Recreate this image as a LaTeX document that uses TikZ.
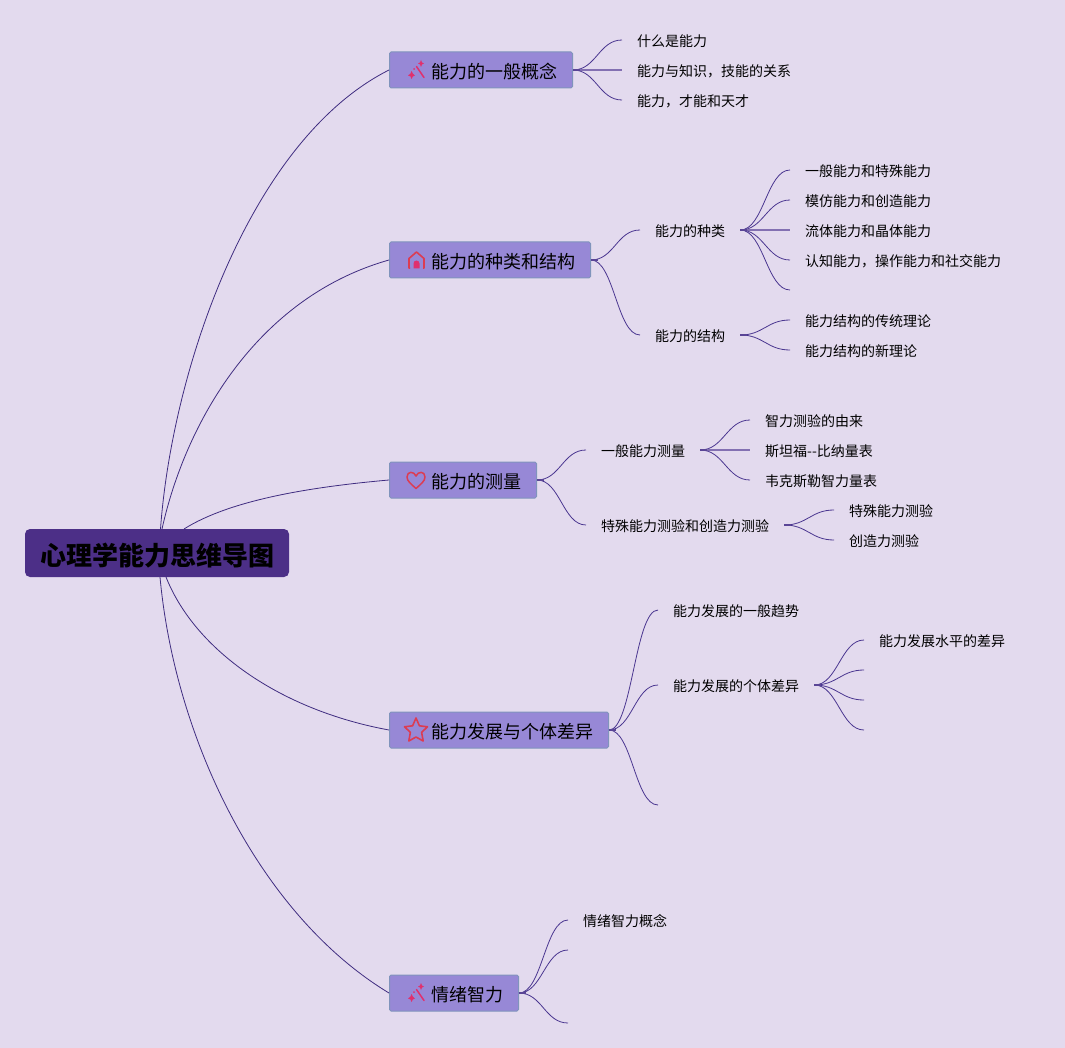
\documentclass[tikz,border=0pt]{standalone}
\usepackage{fontspec}
\setmainfont{Noto Sans CJK SC}
\definecolor{bgc}{HTML}{E3DAEE}
\definecolor{topicfill}{HTML}{9788D6}
\definecolor{topicedge}{HTML}{8094BC}
\definecolor{rootfill}{HTML}{4C2F87}
\definecolor{linec}{HTML}{4A3690}
\definecolor{rootlinec}{HTML}{3F2C80}
\definecolor{flatc}{HTML}{8370B2}
\definecolor{stubc}{HTML}{5A4596}
\definecolor{iconred}{HTML}{DC3C52}
\definecolor{iconpink}{HTML}{E0306E}
\usetikzlibrary{calc}
\tikzset{
  rootbox/.style={fill=rootfill,rounded corners=5pt,minimum width=264pt,minimum height=48pt,inner sep=0pt,text height=26pt,text depth=1.2pt,font=\bfseries\fontsize{26}{30}\selectfont,text=black},
  topic/.style={fill=topicfill,draw=topicedge,line width=1pt,rounded corners=1.5pt,minimum height=36pt,inner ysep=0pt,inner xsep=15pt,text height=18pt,text depth=1.3pt,anchor=west,font=\fontsize{18}{22}\selectfont,text=black},
  leaf/.style={inner xsep=15pt,inner ysep=0pt,text height=15pt,text depth=1.4pt,anchor=west,font=\fontsize{14}{17}\selectfont,text=black},
  rootline/.style={draw=rootlinec,line width=0.8pt},
  br/.style={draw=linec,line width=0.8pt,to path={.. controls ($(\tikztostart)+(23,0)$) and ($(\tikztotarget)+(-23,0)$) .. (\tikztotarget)}},
  flat/.style={draw=flatc,line width=1.3pt},
  stubline/.style={draw=stubc,line width=1.5pt},
  iconline/.style={draw=iconred,line width=1.4pt,line join=round,fill=none},
}
\newcommand{\ictext}[1]{\hspace*{27pt}#1}
\newcommand{\stubat}[1]{\draw[stubline] (#1.east) -- ++(7,0);}
\begin{document}
\begin{tikzpicture}[x=1pt,y=-1pt]
\useasboundingbox (0,0) rectangle (1065,1048);
\fill[bgc] (0,0) rectangle (1065,1048);

% root and topics
\node[rootbox] (root) at (157,553) {心理学能力思维导图};
\node[topic] (t1) at (389,70) {\ictext{能力的一般概念}};
\node[topic] (t2) at (389,260) {\ictext{能力的种类和结构}};
\node[topic] (t3) at (389,480) {\ictext{能力的测量}};
\node[topic] (t4) at (389,730) {\ictext{能力发展与个体差异}};
\node[topic] (t5) at (389,993) {\ictext{情绪智力}};

% root connectors
\coordinate (rtop) at (160.5,529);
\coordinate (rtopb) at (162,529);
\coordinate (rtopc) at (184,529);
\coordinate (rbot) at (160,577);
\coordinate (rbotb) at (166,577);
\draw[rootline] (rtop) .. controls (172,370) and (250,140) .. (t1.west);
\draw[rootline] (rtopb) .. controls (185,425) and (255,298) .. (t2.west);
\draw[rootline] (rtopc) .. controls (230,500) and (310,487) .. (t3.west);
\draw[rootline] (rbotb) .. controls (195,650) and (280,710) .. (t4.west);
\draw[rootline] (rbot) .. controls (175,740) and (260,915) .. (t5.west);

% topic 1
\node[leaf] (a1) at (622,40) {什么是能力};
\node[leaf] (a2) at (622,70) {能力与知识，技能的关系};
\node[leaf] (a3) at (622,100) {能力，才能和天才};
\draw[br] (t1.east) to (a1.west);
\draw[flat] (t1.east) -- (a2.west);
\draw[br] (t1.east) to (a3.west);
\stubat{t1}

% topic 2
\node[leaf] (b1) at (640,230) {能力的种类};
\node[leaf] (b2) at (640,335) {能力的结构};
\draw[br] (t2.east) to (b1.west);
\draw[br] (t2.east) to (b2.west);
\stubat{t2}
\node[leaf] (b11) at (790,170) {一般能力和特殊能力};
\node[leaf] (b12) at (790,200) {模仿能力和创造能力};
\node[leaf] (b13) at (790,230) {流体能力和晶体能力};
\node[leaf] (b14) at (790,260) {认知能力，操作能力和社交能力};
\coordinate (b15) at (790,290);
\draw[br] (b1.east) to (b11.west);
\draw[br] (b1.east) to (b12.west);
\draw[flat] (b1.east) -- (b13.west);
\draw[br] (b1.east) to (b14.west);
\draw[br] (b1.east) to (b15);
\stubat{b1}
\node[leaf] (b21) at (790,320) {能力结构的传统理论};
\node[leaf] (b22) at (790,350) {能力结构的新理论};
\draw[br] (b2.east) to (b21.west);
\draw[br] (b2.east) to (b22.west);
\stubat{b2}

% topic 3
\node[leaf] (c1) at (586,450) {一般能力测量};
\node[leaf] (c2) at (586,525) {特殊能力测验和创造力测验};
\draw[br] (t3.east) to (c1.west);
\draw[br] (t3.east) to (c2.west);
\stubat{t3}
\node[leaf] (c11) at (750,420) {智力测验的由来};
\node[leaf] (c12) at (750,450) {斯坦福{-}{-}比纳量表};
\node[leaf] (c13) at (750,480) {韦克斯勒智力量表};
\draw[br] (c1.east) to (c11.west);
\draw[flat] (c1.east) -- (c12.west);
\draw[br] (c1.east) to (c13.west);
\stubat{c1}
\node[leaf] (c21) at (834,510) {特殊能力测验};
\node[leaf] (c22) at (834,540) {创造力测验};
\draw[br] (c2.east) to (c21.west);
\draw[br] (c2.east) to (c22.west);
\stubat{c2}

% topic 4
\node[leaf] (d1) at (658,610) {能力发展的一般趋势};
\node[leaf] (d2) at (658,685) {能力发展的个体差异};
\coordinate (d3) at (658,805);
\draw[br] (t4.east) to (d1.west);
\draw[br] (t4.east) to (d2.west);
\draw[br] (t4.east) to (d3);
\stubat{t4}
\node[leaf] (d21) at (864,640) {能力发展水平的差异};
\coordinate (d22) at (864,670);
\coordinate (d23) at (864,700);
\coordinate (d24) at (864,730);
\draw[br] (d2.east) to (d21.west);
\draw[br] (d2.east) to (d22);
\draw[br] (d2.east) to (d23);
\draw[br] (d2.east) to (d24);
\stubat{d2}

% topic 5
\node[leaf] (e1) at (568,920) {情绪智力概念};
\coordinate (e2) at (568,950);
\coordinate (e3) at (568,1023);
\draw[br] (t5.east) to (e1.west);
\draw[br] (t5.east) to (e2);
\draw[br] (t5.east) to (e3);
\stubat{t5}

% wand icons
\foreach \cx/\cy in {417/70,417/993}{
  \begin{scope}[shift={(\cx,\cy)}]
    \draw[iconpink,line width=1.5pt,line cap=round] (-0.5,-3.5) -- (7,7.5);
    \fill[iconpink] (-9,5.5) -- (-6.5,3.5) -- (-5.5,1) -- (-4.2,3.5) -- (-2,5.5) -- (-4.2,6.5) -- (-5.5,9) -- (-6.5,6.5) -- cycle;
    \fill[iconpink] (4,-10) -- (5,-7.5) -- (7,-6.5) -- (5,-5.5) -- (4,-3) -- (3,-5.5) -- (1,-6.5) -- (3,-7.5) -- cycle;
    \fill[iconpink] (-3,-1) circle (1pt);
  \end{scope}
}
% house icon
\begin{scope}[shift={(416.5,260)}]
  \draw[iconline,line width=1.6pt] (-6.5,8) -- (-7.5,8) -- (-7.5,-1.5) -- (0,-8) -- (7.5,-1.5) -- (7.5,8) -- (6.5,8);
  \fill[iconpink] (-3,8.5) -- (-3,3.5) arc[start angle=180,end angle=0,radius=3pt] -- (3,8.5) -- cycle;
\end{scope}
% heart icon
\begin{scope}[shift={(416,480)}]
  \draw[iconline,line width=1.5pt] (0,8.5) .. controls (-5,4) and (-9,1) .. (-9,-3)
     .. controls (-9,-9) and (-2,-9) .. (0,-4)
     .. controls (2,-9) and (9,-9) .. (9,-3)
     .. controls (9,1) and (5,4) .. (0,8.5) -- cycle;
\end{scope}
% star icon
\begin{scope}[shift={(416,730)}]
  \draw[iconline,line width=1.6pt] (0,-12) -- (3.4,-4.2) -- (11.5,-3.2) -- (5.6,2.3) -- (7.2,11) -- (0,7) -- (-7.2,11) -- (-5.6,2.3) -- (-11.5,-3.2) -- (-3.4,-4.2) -- cycle;
\end{scope}
\end{tikzpicture}
\end{document}
